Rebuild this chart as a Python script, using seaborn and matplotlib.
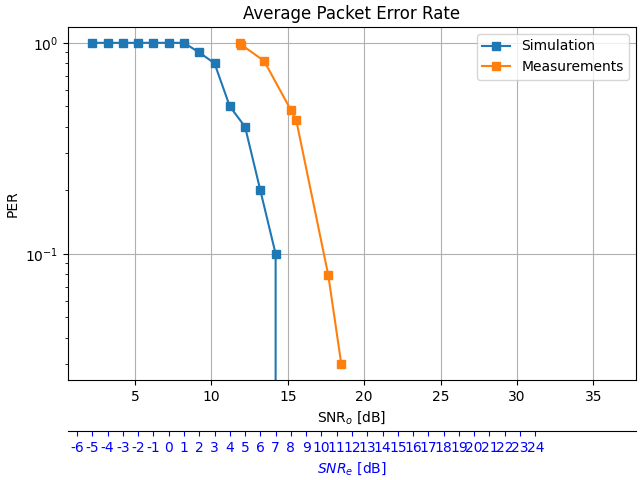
import matplotlib
matplotlib.use('Agg')
import matplotlib.pyplot as plt
import seaborn as sns
import pandas as pd

snr_offset = 7.2

# Simulation: SNR_o [dB] and PER (0 -> no errors, drops off the log axis)
sim_snr = [2.2, 3.2, 4.2, 5.2, 6.2, 7.2, 8.2, 9.2, 10.2, 11.2, 12.2, 13.2, 14.2,
           15.2, 16.2, 17.2, 18.2, 19.2, 20.2, 21.2, 22.2, 23.2, 24.2, 25.2,
           26.2, 27.2, 28.2, 29.2, 30.2, 31.2, 32.2, 33.2, 34.2, 35.2, 36.2]
sim_per = [1.0, 1.0, 1.0, 1.0, 1.0, 1.0, 1.0, 0.9, 0.8, 0.5, 0.4, 0.2, 0.1,
           0, 0, 0, 0, 0, 0, 0, 0, 0, 0, 0, 0, 0, 0, 0, 0, 0, 0, 0, 0, 0, 0]

# Measurements
meas_snr = [11.85, 11.95, 13.45, 15.2, 15.55, 17.65, 18.5]
meas_per = [1.0, 0.98, 0.82, 0.48, 0.43, 0.079, 0.03]

# Electrical SNR tick labels
snr_e_ticks = [-6, -5, -4, -3, -2, -1, 0, 1, 2, 3, 4, 5, 6, 7, 8, 9, 10, 11, 12,
               13, 14, 15, 16, 17, 18, 19, 20, 21, 22, 23, 24]

sim_df = pd.DataFrame({'snr': sim_snr, 'per': sim_per})
meas_df = pd.DataFrame({'snr': meas_snr, 'per': meas_per})

fig, ax = plt.subplots(figsize=(6.4, 4.8), dpi=100)
sns.lineplot(data=sim_df, x='snr', y='per', marker='s', markersize=6,
             markeredgecolor='#1f77b4', markeredgewidth=1,
             color='#1f77b4', label='Simulation', estimator=None, sort=False, ax=ax)
sns.lineplot(data=meas_df, x='snr', y='per', marker='s', markersize=6,
             markeredgecolor='#ff7f0e', markeredgewidth=1,
             color='#ff7f0e', label='Measurements', estimator=None, sort=False, ax=ax)
ax.set_yscale('log')
ax.set_ylim(0.0252, 1.19)
ax.set_xlim(0.6, 37.8)
ax.grid(True, which='major', color='#b0b0b0')
ax.set_title('Average Packet Error Rate')
ax.set_xlabel('SNR$_o$ [dB]')
ax.set_ylabel('PER')
ax.legend(loc='upper right')

# Second x axis below for the electrical SNR
ax2 = ax.twiny()
ax2.set_xlim(0.6 - snr_offset, 37.8 - snr_offset)
ax2.xaxis.set_ticks_position('bottom')
ax2.xaxis.set_label_position('bottom')
ax2.spines['bottom'].set_position(('outward', 36.5))
for s in ['left', 'right', 'top']:
    ax2.spines[s].set_visible(False)
ax2.set_xticks(snr_e_ticks)
ax2.set_xticklabels([str(t) for t in snr_e_ticks])
ax2.tick_params(axis='x', colors='blue')
ax2.set_xlabel('$SNR_e$ [dB]', color='blue')

fig.subplots_adjust(left=0.106, right=0.994, top=0.944, bottom=0.208)
fig.savefig('out.png')
